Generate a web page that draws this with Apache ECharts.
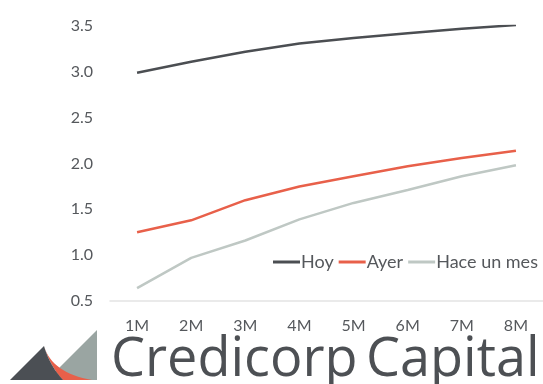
<!DOCTYPE html>
<html>
<head>
<meta charset="utf-8">
<script src="https://cdn.jsdelivr.net/npm/echarts@6/dist/echarts.min.js"></script>
<style>
  html, body { margin: 0; padding: 0; background: #ffffff; }
  #chart { width: 543px; height: 384px; }
</style>
</head>
<body>
<div id="chart"></div>
<script>
// Plazos de la curva
const plazos = ['1M', '2M', '3M', '4M', '5M', '6M', '7M', '8M'];

// Rendimientos (%) por fecha de observación
const hoy = [2.99, 3.11, 3.22, 3.31, 3.37, 3.42, 3.47, 3.51];
const ayer = [1.25, 1.38, 1.60, 1.75, 1.86, 1.97, 2.06, 2.14];
const haceUnMes = [0.64, 0.97, 1.16, 1.39, 1.57, 1.71, 1.86, 1.98];

// Marcas del eje vertical
const ejeY = { min: 0.5, max: 3.5, paso: 0.5 };

const textGray = '#55585c';
const font = 'Lato, "Open Sans", sans-serif';

// Puntos de una curva cuadrática, para los bordes curvos del logotipo
function quad(p0, c, p1, n) {
  const pts = [];
  for (let i = 0; i <= n; i++) {
    const t = i / n, u = 1 - t;
    pts.push([u * u * p0[0] + 2 * u * t * c[0] + t * t * p1[0],
              u * u * p0[1] + 2 * u * t * c[1] + t * t * p1[1]]);
  }
  return pts;
}

const apex = [44, 346];
const innerEdge = quad(apex, [50, 366], [63, 380], 16);   // borde gris oscuro / naranja
const outerEdge = quad(apex, [52, 373], [92, 380], 16);   // borde naranja / gris claro

const chart = echarts.init(document.getElementById('chart'), null, { renderer: 'canvas' });

function lineSeries(name, data, color) {
  return {
    name: name,
    type: 'line',
    data: data,
    symbol: 'none',
    smooth: false,
    lineStyle: { color: color, width: 2.5 },
    itemStyle: { color: color }
  };
}

chart.setOption({
  backgroundColor: '#ffffff',
  animation: false,
  grid: { left: 110, top: 26, width: 436, height: 275, containLabel: false },
  legend: {
    left: 273,
    top: 253,
    width: 300,
    padding: 0,
    icon: 'rect',
    itemWidth: 27,
    itemHeight: 3,
    itemGap: 5,
    textStyle: { fontFamily: font, fontSize: 18, color: textGray, padding: [0, 0, 0, -4] },
    data: ['Hoy', 'Ayer', 'Hace un mes']
  },
  xAxis: {
    type: 'category',
    data: plazos,
    boundaryGap: true,
    axisLine: { lineStyle: { color: '#e3e3e3', width: 1.5 } },
    axisTick: { show: false },
    axisLabel: { fontFamily: font, fontSize: 16, color: textGray, margin: 17 }
  },
  yAxis: {
    type: 'value',
    min: ejeY.min,
    max: ejeY.max,
    interval: ejeY.paso,
    axisLine: { show: false },
    axisTick: { show: false },
    splitLine: { show: false },
    axisLabel: {
      fontFamily: font, fontSize: 16, color: textGray, margin: 17,
      formatter: v => v.toFixed(1)
    }
  },
  graphic: [
    // Logotipo: triángulos
    { type: 'polygon', shape: { points: [[47, 380], [97, 330], [97, 380]] }, style: { fill: '#9aa5a2' }, z: 10 },
    { type: 'polygon', shape: { points: outerEdge.concat(innerEdge.slice().reverse()) }, style: { fill: '#e8604a' }, z: 11 },
    { type: 'polygon', shape: { points: [[10, 380]].concat(innerEdge) }, style: { fill: '#4b4f54' }, z: 12 },
    // Logotipo: nombre
    {
      type: 'text', left: 111, top: 334, z: 10,
      style: { text: 'Credicorp', font: '500 54px "Open Sans", sans-serif', fill: '#4d5054' }
    },
    {
      type: 'text', left: 366, top: 334, z: 10,
      style: { text: 'Capital', font: '500 54px "Open Sans", sans-serif', fill: '#4d5054' }
    }
  ],
  series: [
    lineSeries('Hoy', hoy, '#4b4e52'),
    lineSeries('Ayer', ayer, '#e8604a'),
    lineSeries('Hace un mes', haceUnMes, '#bfc8c4')
  ]
});
</script>
</body>
</html>
